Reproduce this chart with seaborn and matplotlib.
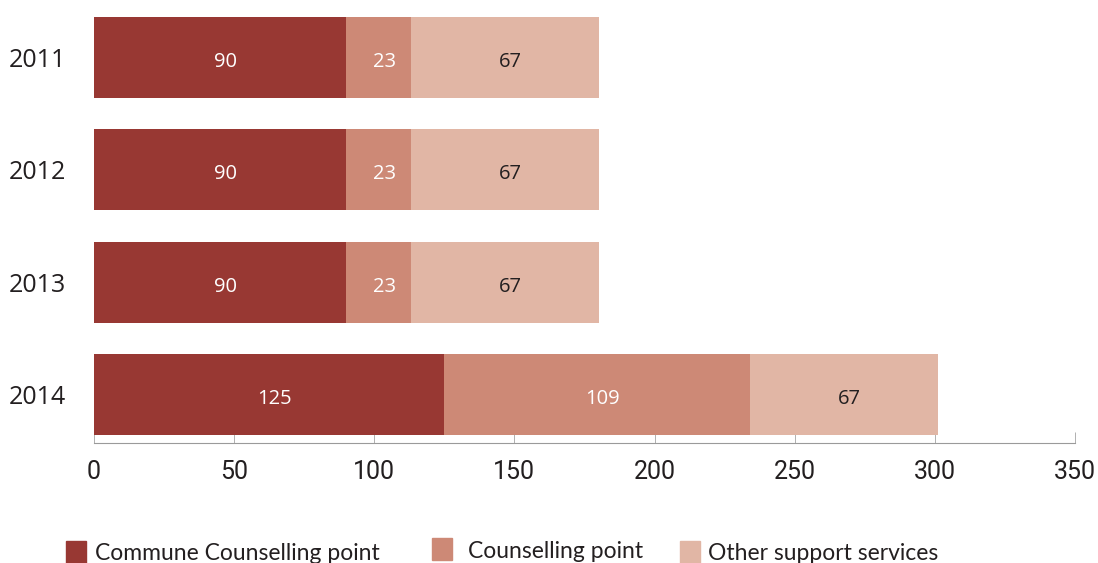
import pandas as pd
import matplotlib.pyplot as plt
import seaborn as sns
from matplotlib.patches import Rectangle

# --- Data ---
years = ["2011", "2012", "2013", "2014"]
commune = [90, 90, 90, 125]
counselling = [23, 23, 23, 109]
other = [67, 67, 67, 67]
series_names = ["Commune Counselling point", "Counselling point", "Other support services"]
colors = ["#983833", "#CD8976", "#E1B6A5"]
label_colors = ["white", "white", "#231f20"]

df = pd.DataFrame({"year": years, "commune": commune,
                   "counselling": counselling, "other": other})
df["c1"] = df["commune"]
df["c2"] = df["commune"] + df["counselling"]
df["c3"] = df["c2"] + df["other"]

sns.set_style("white")
fig = plt.figure(figsize=(10.98, 5.63), dpi=100)
ax = fig.add_axes([94 / 1098, (563 - 443) / 563, 981 / 1098, 443 / 563])

# stacked bars drawn as layered cumulative totals
for col, c in zip(["c3", "c2", "c1"], colors[::-1]):
    sns.barplot(data=df, y="year", x=col, orient="h", color=c,
                width=0.72, saturation=1, linewidth=0, ax=ax)

# segment labels
segs = [df["commune"], df["counselling"], df["other"]]
starts = [0 * df["c1"], df["c1"], df["c2"]]
for seg, st, tc in zip(segs, starts, label_colors):
    for i, (v, s) in enumerate(zip(seg, st)):
        ax.text(s + v / 2 + 2, i + 0.04, str(v), ha="center", va="center",
                color=tc, fontsize=14.5, family=["Open Sans", "DejaVu Sans"])

ax.set_xlim(0, 350)
ax.set_ylim(3.43, -0.512)
ax.set_xticks(range(0, 351, 50))
ax.set_xlabel("")
ax.set_ylabel("")
sns.despine(ax=ax, left=True)
ax.spines["bottom"].set_color("#9a9a9a")
ax.spines["bottom"].set_linewidth(0.8)
ax.tick_params(axis="x", bottom=True, direction="in", length=8, width=0.7,
               color="#b0b0b0", pad=12, labelsize=18, labelcolor="#231f20")
ax.tick_params(axis="y", left=False, length=0, pad=20, labelsize=18,
               labelcolor="#231f20")
for t in ax.get_xticklabels():
    t.set_family(["Roboto", "DejaVu Sans"])
for t in ax.get_yticklabels():
    t.set_family(["Open Sans", "DejaVu Sans"])

# legend at the bottom
leg_x = [66, 432, 680]
leg_y = [541, 538, 541]
text_x = [95, 468, 708]
for lx, ly, tx, c, name in zip(leg_x, leg_y, text_x, colors, series_names):
    fig.patches.append(Rectangle((lx / 1098, (563 - ly - 22) / 563), 20 / 1098, 22 / 563,
                                 transform=fig.transFigure, color=c))
    fig.text(tx / 1098, (563 - ly - 13) / 563, name, va="center", ha="left",
             fontsize=16.5, color="#231f20", family=["Lato", "DejaVu Sans"])

plt.savefig("out.png", dpi=100)
